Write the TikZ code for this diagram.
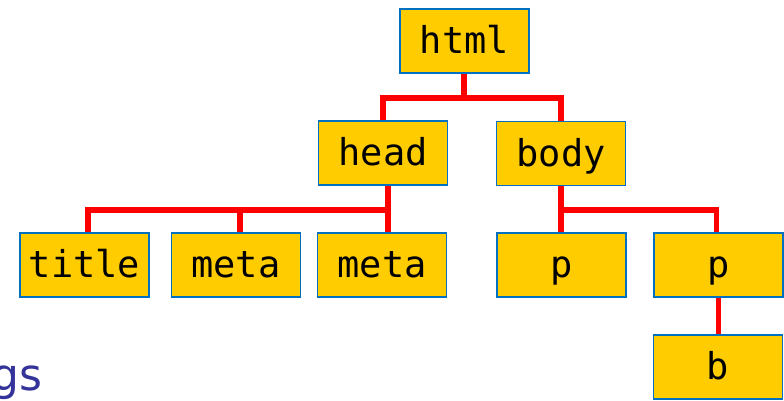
\documentclass[tikz,border=0pt]{standalone}
\usepackage{fontspec}
\newfontfamily\boxfont{DejaVu Sans Mono}
\newfontfamily\captionfont{DejaVu Sans}
\definecolor{boxfill}{HTML}{FFCC00}
\definecolor{boxline}{HTML}{0070C0}
\definecolor{treeline}{HTML}{FF0000}
\definecolor{captioncol}{HTML}{333399}
\begin{document}
\begin{tikzpicture}[x=1pt,y=-1pt,
  tag/.style={draw=boxline, line width=1.5pt, fill=boxfill,
    minimum width=129pt, minimum height=64pt, inner sep=0pt,
    text height=25pt, text depth=0pt,
    font=\boxfont\fontsize{37}{42}\selectfont},
  edge/.style={draw=treeline, line width=5.5pt, line join=miter}]
\useasboundingbox (0,0) rectangle (784,400);

% element boxes
\node[tag] (html)  at (464.5, 41) {html};
\node[tag] (head)  at (383, 153) {head};
\node[tag] (body)  at (561, 153.5) {body};
\node[tag] (title) at (84.5, 265) {title};
\node[tag] (meta1) at (236, 265) {meta};
\node[tag] (meta2) at (382, 265) {meta};
\node[tag] (p1)    at (561.5, 265) {p};
\node[tag] (p2)    at (718.5, 265) {p};
\node[tag] (b)     at (718, 367) {b};

% parent-child connectors
\draw[edge] ([xshift=-0.5pt]html.south) -- +(0,24) -| (head.north);
\draw[edge] ([xshift=-0.5pt]html.south) -- +(0,24) -| (body.north);

\draw[edge] ([xshift=5pt]head.south) -- ([xshift=6pt]meta2.north);
\draw[edge] ([xshift=5pt]head.south) -- +(0,24) -| ([xshift=3.5pt]title.north);
\draw[edge] ([xshift=5pt]head.south) -- +(0,24) -| ([xshift=4pt]meta1.north);

\draw[edge] (body.south) -- (body.south |- p1.north);
\draw[edge] (body.south) -- +(0,23.5) -| ([xshift=-2pt]p2.north);

\draw[edge] (p2.south) -- (p2.south |- b.north);

% trailing caption text
\node[anchor=base west, inner sep=0pt, text=captioncol,
  font=\captionfont\fontsize{44}{50}\selectfont] (caption) at (-9, 390) {gs};
\end{tikzpicture}
\end{document}
